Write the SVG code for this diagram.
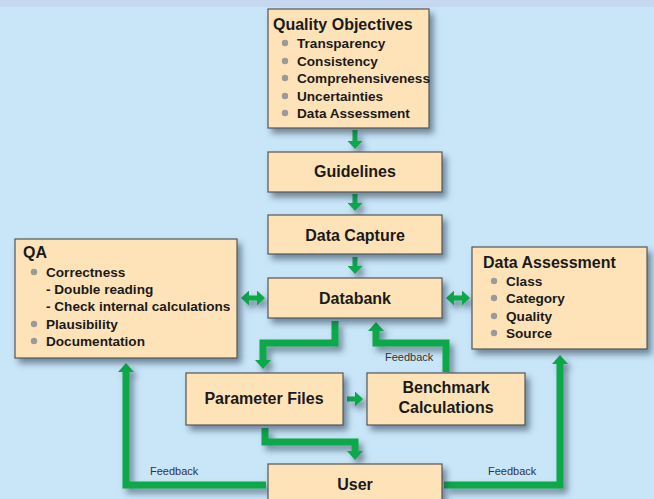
<svg xmlns="http://www.w3.org/2000/svg" width="654" height="499" viewBox="0 0 654 499">
<style>
.box{fill:#FFE3B8;stroke:#555;stroke-width:1.2}
.t{font-family:"Liberation Sans",Arial,sans-serif;font-weight:bold;fill:#1a1a1a}
.h{font-size:16px}
.b{font-size:13.6px}
.c{text-anchor:middle}
.dot{fill:#9a9a9a}
.fb{font-family:"Liberation Sans",Arial,sans-serif;font-size:11px;fill:#333}
.ln{fill:none;stroke:#0BA84A;stroke-width:7}
.sm{fill:none;stroke:#0BA84A;stroke-width:5}
</style>
<defs>
<filter id="sh" x="-10%" y="-10%" width="130%" height="140%">
<feDropShadow dx="4" dy="5" stdDeviation="3" flood-color="#2a3a50" flood-opacity="0.55"/>
</filter>
<marker id="ah" markerUnits="userSpaceOnUse" viewBox="0 0 9 16" markerWidth="9" markerHeight="16" refX="0" refY="8" orient="auto-start-reverse">
<path d="M0,0 L9,8 L0,16 Z" fill="#0BA84A"/>
</marker>
<marker id="ahs" markerUnits="userSpaceOnUse" viewBox="0 0 8 15" markerWidth="8" markerHeight="15" refX="0" refY="7.5" orient="auto-start-reverse">
<path d="M0,0 L8,7.5 L0,15 Z" fill="#0BA84A"/>
</marker>
</defs>
<rect width="654" height="499" fill="#C9E6F8"/>
<rect width="654" height="7" fill="#C6D8EF"/>

<g id="connectors" filter="url(#sh)">
<path class="sm" d="M355,130 V141" marker-end="url(#ahs)"/>
<path class="sm" d="M355,194 V203" marker-end="url(#ahs)"/>
<path class="sm" d="M355,257 V266" marker-end="url(#ahs)"/>
<path class="sm" d="M249,298 H257" marker-start="url(#ahs)" marker-end="url(#ahs)"/>
<path class="sm" d="M454,298 H462" marker-start="url(#ahs)" marker-end="url(#ahs)"/>
<path class="sm" d="M347,399 H355" marker-end="url(#ahs)"/>
<path class="ln" d="M335,321 V343 H263 V360" marker-end="url(#ah)"/>
<path class="ln" d="M446,372 V343 H376 V331" marker-end="url(#ah)"/>
<path class="ln" d="M265,428 V442 H355 V451" marker-end="url(#ah)"/>
<path class="ln" d="M266,485 H126 V372" marker-end="url(#ah)"/>
<path class="ln" d="M444,485 H560 V364" marker-end="url(#ah)"/>
</g>
<g id="labels">
<text class="fb" x="385" y="361">Feedback</text>
<text class="fb" x="150" y="475">Feedback</text>
<text class="fb" x="488" y="475">Feedback</text>
</g>

<g id="quality-objectives">
<rect class="box" x="268" y="9" width="161" height="119" filter="url(#sh)"/>
<text class="t h" x="273" y="30">Quality Objectives</text>
<circle class="dot" cx="285" cy="43" r="3.2"/><text class="t b" x="297" y="48">Transparency</text>
<circle class="dot" cx="285" cy="61" r="3.2"/><text class="t b" x="297" y="66">Consistency</text>
<circle class="dot" cx="285" cy="78" r="3.2"/><text class="t b" x="297" y="83">Comprehensiveness</text>
<circle class="dot" cx="285" cy="96" r="3.2"/><text class="t b" x="297" y="101">Uncertainties</text>
<circle class="dot" cx="285" cy="113" r="3.2"/><text class="t b" x="297" y="118">Data Assessment</text>
</g>

<g id="guidelines">
<rect class="box" x="268" y="152" width="174" height="40" filter="url(#sh)"/>
<text class="t h c" x="355" y="177">Guidelines</text>
</g>

<g id="data-capture">
<rect class="box" x="268" y="215" width="174" height="39" filter="url(#sh)"/>
<text class="t h c" x="355" y="241">Data Capture</text>
</g>

<g id="databank">
<rect class="box" x="268" y="278" width="174" height="40" filter="url(#sh)"/>
<text class="t h c" x="355" y="304">Databank</text>
</g>

<g id="qa">
<rect class="box" x="15" y="239" width="222" height="119" filter="url(#sh)"/>
<text class="t h" x="23" y="258">QA</text>
<circle class="dot" cx="34" cy="272" r="3.2"/><text class="t b" x="46" y="277">Correctness</text>
<text class="t b" x="46" y="294">- Double reading</text>
<text class="t b" x="46" y="311">- Check internal calculations</text>
<circle class="dot" cx="34" cy="324" r="3.2"/><text class="t b" x="46" y="329">Plausibility</text>
<circle class="dot" cx="34" cy="341" r="3.2"/><text class="t b" x="46" y="346">Documentation</text>
</g>

<g id="data-assessment">
<rect class="box" x="472" y="247" width="175" height="102" filter="url(#sh)"/>
<text class="t h" x="483" y="268">Data Assessment</text>
<circle class="dot" cx="494" cy="281" r="3.2"/><text class="t b" x="506" y="286">Class</text>
<circle class="dot" cx="494" cy="298" r="3.2"/><text class="t b" x="506" y="303">Category</text>
<circle class="dot" cx="494" cy="316" r="3.2"/><text class="t b" x="506" y="321">Quality</text>
<circle class="dot" cx="494" cy="333" r="3.2"/><text class="t b" x="506" y="338">Source</text>
</g>

<g id="parameter-files">
<rect class="box" x="186" y="373" width="157" height="52" filter="url(#sh)"/>
<text class="t h c" x="264" y="404">Parameter Files</text>
</g>

<g id="benchmark-calculations">
<rect class="box" x="367" y="373" width="158" height="52" filter="url(#sh)"/>
<text class="t h c" x="446" y="393">Benchmark</text>
<text class="t h c" x="446" y="413">Calculations</text>
</g>

<g id="user">
<rect class="box" x="268" y="464" width="174" height="45" filter="url(#sh)"/>
<text class="t h c" x="355" y="490">User</text>
</g>
</svg>
